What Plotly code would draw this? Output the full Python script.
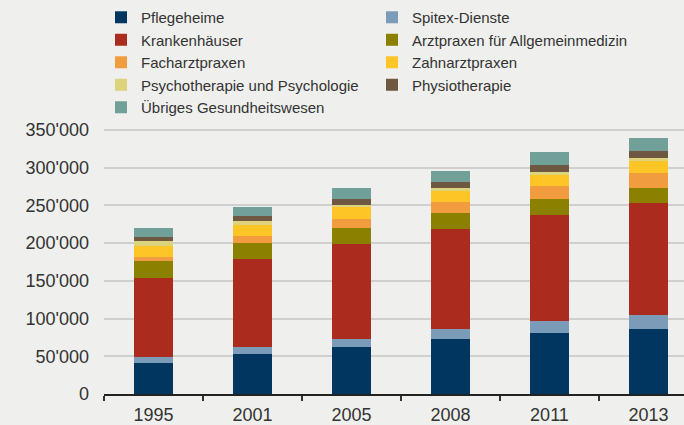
import plotly.graph_objects as go

years = ["1995", "2001", "2005", "2008", "2011", "2013"]

pflegeheime = [41100, 52500, 61800, 72900, 80400, 86200]
spitex = [7400, 9300, 11500, 13300, 16400, 18600]
krankenhaeuser = [104800, 117600, 125600, 132600, 141000, 148500]
arztpraxen_allg = [22500, 21200, 21200, 20700, 20800, 19900]
facharztpraxen = [6300, 9300, 11900, 14600, 17600, 20300]
zahnarztpraxen = [14100, 14600, 15400, 15500, 15500, 15500]
psychotherapie = [7100, 4900, 3600, 3600, 2100, 3500]
physiotherapie = [5300, 7000, 7600, 8300, 10200, 10200]
uebriges = [11500, 12000, 14600, 14600, 16400, 16900]

series_names = [
    "Pflegeheime", "Spitex-Dienste", "Krankenhäuser", "Arztpraxen für Allgemeinmedizin",
    "Facharztpraxen", "Zahnarztpraxen", "Psychotherapie und Psychologie",
    "Physiotherapie", "Übriges Gesundheitswesen",
]
series_values = [
    pflegeheime, spitex, krankenhaeuser, arztpraxen_allg, facharztpraxen,
    zahnarztpraxen, psychotherapie, physiotherapie, uebriges,
]
colors = [
    "#003660", "#7b9bb8", "#ab2b1f", "#8b8000", "#f29c40",
    "#fec526", "#dcd37c", "#6e5841", "#70a097",
]

y_tickvals = [0, 50000, 100000, 150000, 200000, 250000, 300000, 350000]
y_ticktext = ["0", "50'000", "100'000", "150'000", "200'000", "250'000", "300'000", "350'000"]

bg = "#efefed"
fig = go.Figure()
for name, vals, col in zip(series_names, series_values, colors):
    fig.add_trace(go.Bar(x=years, y=vals, name=name, marker=dict(color=col, line=dict(width=0)),
                         width=0.4))

fig.update_layout(
    width=684, height=425,
    barmode="stack",
    paper_bgcolor=bg, plot_bgcolor=bg,
    margin=dict(l=104, r=0, t=121, b=31, autoexpand=False),
    font=dict(family="Liberation Sans, Arial, sans-serif", color="#333333"),
    showlegend=True,
    legend=dict(
        orientation="h", traceorder="normal",
        xref="container", yref="container",
        x=0.1477, xanchor="left", y=0.9976, yanchor="top",
        entrywidth=226, entrywidthmode="pixels",
        font=dict(size=15, color="#333333"),
        bgcolor="rgba(0,0,0,0)",
    ),
)
fig.update_xaxes(
    type="category", range=[-0.5, 5.359],
    tickson="boundaries", ticks="outside", ticklen=5, tickcolor="#333333", tickwidth=1.5,
    showline=True, linecolor="#222222", linewidth=1.5,
    showgrid=False, tickfont=dict(size=18, color="#333333"),
    ticklabelstandoff=4,
)
fig.update_yaxes(
    range=[0, 362000], tickvals=y_tickvals, ticktext=y_ticktext,
    showgrid=True, gridcolor="#cfcfcd", gridwidth=1.5,
    zeroline=False, showline=False, ticks="",
    ticklabelstandoff=14,
    tickfont=dict(size=18, color="#333333"),
)

fig.write_html(
    "out.html",
    config={"displayModeBar": False},
    post_script="document.body.style.margin='0px';document.body.style.background='" + bg + "';",
)
